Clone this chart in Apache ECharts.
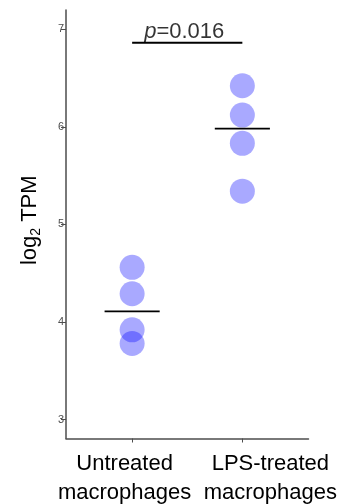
<!DOCTYPE html>
<html>
<head>
<meta charset="utf-8">
<script src="https://cdn.jsdelivr.net/npm/echarts@6/dist/echarts.min.js"></script>
<style>html,body{margin:0;padding:0;background:#fff;}#c{width:340px;height:504px;}</style>
</head>
<body>
<div id="c"></div>
<script>
var categories = ['Untreated\nmacrophages', 'LPS-treated\nmacrophages'];
var untreatedValues = [4.56, 4.29, 3.92, 3.78];
var lpsValues = [6.42, 6.12, 5.83, 5.34];
var medians = [4.11, 5.98];
var yTicks = [3, 4, 5, 6, 7];
var pText = '0.016';
var pBarY = 6.86;

var groups = [untreatedValues, lpsValues];
var pointData = [];
groups.forEach(function (vals, gi) {
  vals.forEach(function (v) { pointData.push([gi + 1, v]); });
});
var halfW = 0.25;
var medianSeries = medians.map(function (m, gi) {
  return {
    type: 'line', data: [[gi + 1 - halfW, m], [gi + 1 + halfW, m]],
    symbol: 'none', lineStyle: { color: '#000', width: 1.8 }, silent: true, z: 5
  };
});
var FONT = 'Liberation Sans, Arial, sans-serif';
var labelPads = [[0, 15, 0, 0], [0, 0, 0, 56]];

function makeXAxis(i) {
  return {
    type: 'value', min: 0.4, max: 2.6, position: 'bottom',
    splitLine: { show: false },
    axisLine: { show: i === 0, onZero: false, lineStyle: { color: '#4d4d4d', width: 1.5 } },
    axisTick: { show: true, customValues: [i + 1], length: 4, lineStyle: { color: '#4d4d4d', width: 1 } },
    axisLabel: {
      customValues: [i + 1], margin: 11, hideOverlap: false, showMinLabel: true, showMaxLabel: true,
      formatter: function (v) {
        return categories[i].split('\n').map(function (s) { return '{t|' + s + '}'; }).join('\n');
      },
      rich: {
        t: { fontSize: 22, lineHeight: 29, color: '#000', fontFamily: FONT, padding: labelPads[i] }
      }
    }
  };
}

var chart = echarts.init(document.getElementById('c'), null, { renderer: 'canvas' });
chart.setOption({
  animation: false,
  grid: { left: 66, right: 31, top: 10, bottom: 62 },
  xAxis: [makeXAxis(0), makeXAxis(1)],
  yAxis: {
    type: 'value', min: 2.807, max: 7.196,
    splitLine: { show: false },
    axisLine: { show: true, lineStyle: { color: '#4d4d4d', width: 1.5 } },
    axisTick: { show: true, customValues: yTicks, length: 5, lineStyle: { color: '#4d4d4d', width: 1 } },
    axisLabel: { customValues: yTicks, margin: 2, color: '#4d4d4d', fontSize: 11, fontFamily: FONT },
    name: '{a|log}{s|2}{a| TPM}', nameLocation: 'middle', nameGap: 23, nameRotate: 90,
    nameTextStyle: {
      padding: [0, 0, 0, 8],
      rich: {
        a: { fontSize: 22, color: '#000', fontFamily: FONT },
        s: { fontSize: 14, color: '#000', fontFamily: FONT, padding: [12, 0, 0, 0] }
      }
    }
  },
  series: [
    {
      type: 'scatter', data: pointData, symbolSize: 25,
      itemStyle: { color: 'rgba(0,0,255,0.42)' }, z: 3
    },
    {
      type: 'line', data: [[1, pBarY], [2, pBarY]], symbol: 'none',
      lineStyle: { color: '#000', width: 2 }, silent: true, z: 5
    },
    {
      type: 'scatter', data: [[1.5, pBarY]], symbolSize: 0, silent: true,
      label: {
        show: true, position: 'top', distance: 0,
        formatter: '{i|p}{n|=' + pText + '}',
        padding: [0, 6, 0, 0],
        rich: {
          i: { fontSize: 22, fontStyle: 'italic', color: '#000', fontFamily: FONT },
          n: { fontSize: 22, color: '#000', fontFamily: FONT }
        }
      }
    }
  ].concat(medianSeries)
});
</script>
</body>
</html>
